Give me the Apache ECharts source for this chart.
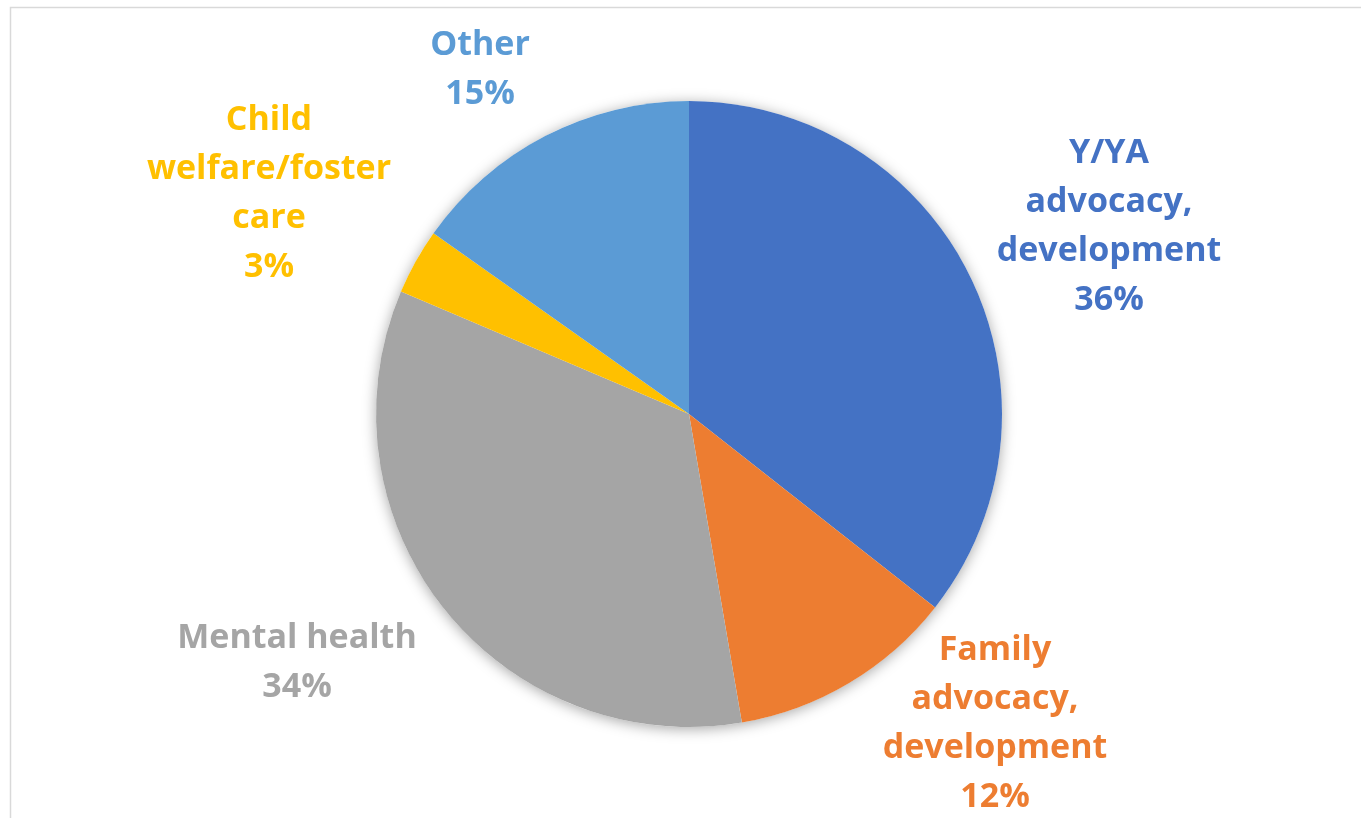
<!DOCTYPE html>
<html>
<head>
<meta charset="utf-8">
<script src="https://cdn.jsdelivr.net/npm/echarts@6/dist/echarts.min.js"></script>
<style>
html,body{margin:0;padding:0;background:#fff;}
#chart{width:1361px;height:818px;}
</style>
</head>
<body>
<div id="chart"></div>
<script>
const categories = ['Y/YA\nadvocacy,\ndevelopment', 'Family\nadvocacy,\ndevelopment', 'Mental health', 'Child\nwelfare/foster\ncare', 'Other'];
const values = [35.6, 11.7, 34.1, 3.4, 15.2];
const colors = ['#4472C4', '#ED7D31', '#A5A5A5', '#FFC000', '#5B9BD5'];
// label placement (layout only)
const labelPos = [[1109, 227], [995, 724], [297, 663], [269, 194], [480, 70]];

const chart = echarts.init(document.getElementById('chart'), null, {renderer: 'canvas'});
chart.setOption({
  animation: false,
  backgroundColor: '#ffffff',
  graphic: [{
    type: 'rect', silent: true, z: -10,
    shape: {x: 10.5, y: 7.5, width: 1500, height: 1000},
    style: {fill: 'none', stroke: '#d9d9d9', lineWidth: 1.5}
  }],
  series: [
    {
      type: 'pie', silent: true, z: 1,
      center: [689, 414], radius: 313,
      label: {show: false}, labelLine: {show: false},
      itemStyle: {color: '#ffffff', shadowBlur: 14, shadowColor: 'rgba(0,0,0,0.35)', shadowOffsetX: 0, shadowOffsetY: 2},
      data: [{value: 1, name: ''}]
    },
    {
      type: 'pie', z: 2,
      center: [689, 414], radius: 313,
      startAngle: 90, clockwise: true,
      itemStyle: {borderWidth: 0},
      labelLine: {show: false},
      label: {
        show: true, position: 'outside',
        fontFamily: '"Open Sans"', fontWeight: 'bold', fontSize: 34, lineHeight: 49,
        align: 'center',
        formatter: p => p.name + '\n' + Math.round(p.percent) + '%'
      },
      labelLayout: p => ({x: labelPos[p.dataIndex][0], y: labelPos[p.dataIndex][1], align: 'center', verticalAlign: 'middle'}),
      data: categories.map((c, i) => ({
        name: c, value: values[i],
        itemStyle: {color: colors[i]},
        label: {color: colors[i]}
      }))
    }
  ]
});
</script>
</body>
</html>
